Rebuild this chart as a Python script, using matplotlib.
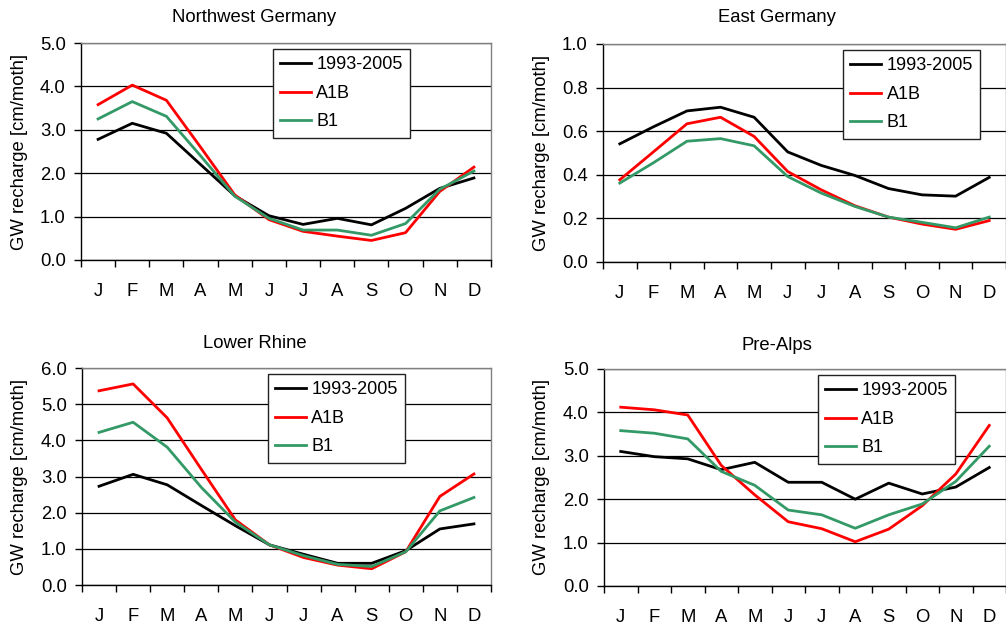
import numpy as np
import matplotlib
matplotlib.use("Agg")
import matplotlib.pyplot as plt

plt.rcParams['font.family'] = ['Liberation Sans', 'DejaVu Sans']

months = ["J", "F", "M", "A", "M", "J", "J", "A", "S", "O", "N", "D"]
series_names = ["1993-2005", "A1B", "B1"]

# Northwest Germany
nw_ref = [2.78, 3.15, 2.92, 2.20, 1.48, 1.02, 0.82, 0.96, 0.81, 1.19, 1.65, 1.89]
nw_a1b = [3.58, 4.03, 3.68, 2.60, 1.50, 0.93, 0.66, 0.55, 0.45, 0.63, 1.58, 2.14]
nw_b1 = [3.25, 3.65, 3.31, 2.40, 1.47, 0.96, 0.69, 0.69, 0.57, 0.84, 1.63, 2.05]

# East Germany
east_ref = [0.542, 0.620, 0.693, 0.710, 0.664, 0.505, 0.443, 0.397, 0.337, 0.308, 0.302, 0.388]
east_a1b = [0.377, 0.505, 0.634, 0.664, 0.576, 0.415, 0.331, 0.258, 0.206, 0.174, 0.150, 0.190]
east_b1 = [0.362, 0.455, 0.554, 0.566, 0.533, 0.392, 0.316, 0.255, 0.206, 0.182, 0.157, 0.206]

# Lower Rhine
lr_ref = [2.73, 3.06, 2.77, 2.20, 1.64, 1.11, 0.85, 0.60, 0.60, 0.95, 1.55, 1.69]
lr_a1b = [5.37, 5.56, 4.62, 3.20, 1.80, 1.11, 0.76, 0.55, 0.45, 0.92, 2.45, 3.07]
lr_b1 = [4.22, 4.50, 3.81, 2.70, 1.74, 1.11, 0.81, 0.57, 0.51, 0.92, 2.05, 2.42]

# Pre-Alps
pa_ref = [3.10, 2.98, 2.93, 2.68, 2.85, 2.39, 2.39, 2.00, 2.37, 2.12, 2.28, 2.73]
pa_a1b = [4.12, 4.06, 3.94, 2.78, 2.10, 1.48, 1.32, 1.02, 1.31, 1.85, 2.58, 3.70]
pa_b1 = [3.58, 3.52, 3.39, 2.64, 2.32, 1.75, 1.64, 1.33, 1.64, 1.89, 2.41, 3.22]

colors = ["black", "#ff0000", "#339966"]
W, H = 1006, 625
FS = 13.3

panels = [
    # title, data, ymax, ystep, axes rect px (x0, y0, x1, y1), title pos, ylabel pos, legend anchor
    ("Northwest Germany", (nw_ref, nw_a1b, nw_b1), 5.0, 1.0,
     (81, 43, 491, 260), (254, 18), (20, 152), (0.468, 0.972)),
    ("East Germany", (east_ref, east_a1b, east_b1), 1.0, 0.2,
     (603, 44, 1006, 262), (777, 18), (542, 153), (0.596, 0.972)),
    ("Lower Rhine", (lr_ref, lr_a1b, lr_b1), 6.0, 1.0,
     (82, 368, 491, 585), (255, 343), (20, 477), (0.455, 0.972)),
    ("Pre-Alps", (pa_ref, pa_a1b, pa_b1), 5.0, 1.0,
     (604, 369, 1006, 586), (777, 345), (542, 477), (0.532, 0.972)),
]

fig = plt.figure(figsize=(W / 100, H / 100), dpi=100)
x = np.arange(len(months)) + 0.5

for title, data, ymax, ystep, rect, tpos, ypos, lpos in panels:
    x0, y0, x1, y1 = rect
    ax = fig.add_axes([x0 / W, 1 - y1 / H, (x1 - x0) / W, (y1 - y0) / H])
    for vals, name, c in zip(data, series_names, colors):
        ax.plot(x, vals, color=c, lw=2, label=name, zorder=3)

    ax.set_xlim(0, 12)
    ax.set_ylim(0, ymax)
    ax.set_yticks(np.arange(0, ymax + ystep / 2, ystep))
    ax.yaxis.set_major_formatter(matplotlib.ticker.FormatStrFormatter("%.1f"))
    ax.set_xticks(np.arange(13))
    ax.set_xticklabels([])
    ax.set_xticks(x, minor=True)
    ax.set_xticklabels(months, minor=True)
    ax.tick_params(axis="x", which="major", direction="out", length=5, width=1, color="black")
    ax.tick_params(axis="x", which="minor", length=0, pad=16.5, labelsize=FS)
    ax.tick_params(axis="y", direction="out", length=5, width=1, pad=6, labelsize=FS)

    ax.grid(axis="y", color="black", lw=0.9, zorder=1)
    ax.set_axisbelow(True)
    for s in ["top", "right"]:
        ax.spines[s].set_color("#808080")
        ax.spines[s].set_linewidth(1)
    for s in ["left", "bottom"]:
        ax.spines[s].set_color("black")
        ax.spines[s].set_linewidth(1)

    leg = ax.legend(loc="upper left", bbox_to_anchor=lpos, fontsize=FS - 0.3, frameon=True,
                    fancybox=False, framealpha=1, edgecolor="#222222", borderaxespad=0,
                    handlelength=1.7, handletextpad=0.3, labelspacing=0.64,
                    borderpad=0.4)
    leg.get_frame().set_linewidth(1)
    leg.set_zorder(5)

    fig.text(tpos[0] / W, 1 - tpos[1] / H, title, ha="center", va="center", fontsize=FS)
    fig.text(ypos[0] / W, 1 - ypos[1] / H, "GW recharge [cm/moth]", ha="center", va="center",
             rotation=90, fontsize=FS)

fig.savefig("out.png", dpi=100)
